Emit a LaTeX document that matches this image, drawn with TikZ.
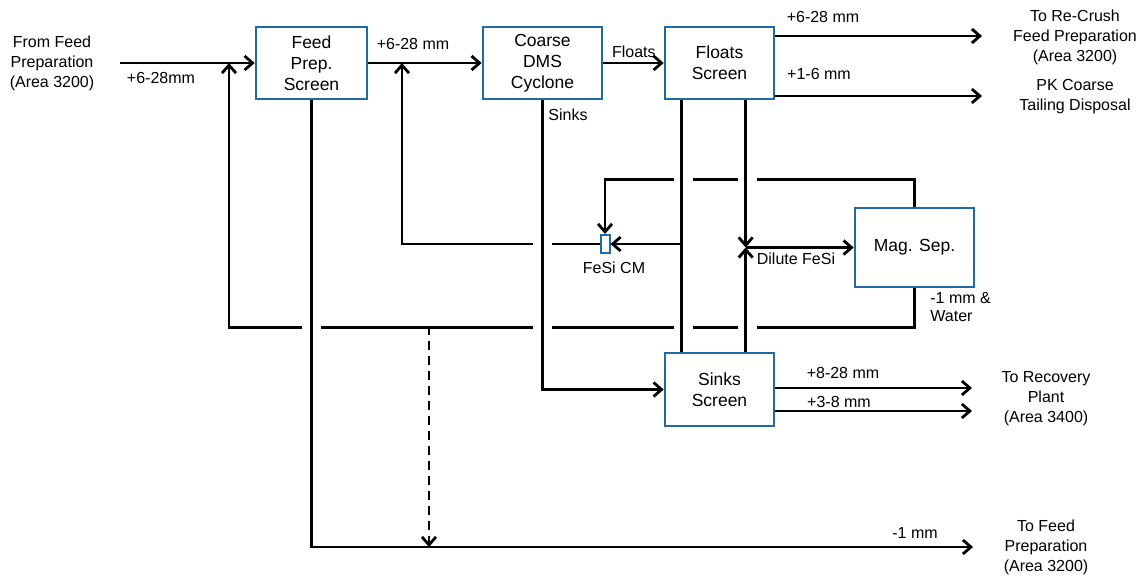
\documentclass[tikz,border=0pt]{standalone}
\usepackage{fontspec}
\setmainfont{Liberation Sans}
\usetikzlibrary{positioning,arrows.meta}
\definecolor{boxblue}{RGB}{31,106,168}

\begin{document}
\begin{tikzpicture}[x=1pt, y=-1pt, line width=2.8pt,
    box/.style={draw=boxblue, line width=2.6pt, rectangle, align=center, inner sep=0pt, font=\fontsize{17.5}{21}\selectfont},
    txt/.style={align=center, inner sep=0pt, font=\fontsize{16}{20}\selectfont},
    lbl/.style={inner sep=0pt, font=\fontsize{16}{18}\selectfont},
    arr/.style={-{Straight Barb[length=8pt,width=14pt]}}]

    \useasboundingbox (0,0) rectangle (1142,576);

    % Nodes
    \node[box, minimum width=111pt, minimum height=72pt] (feed) at (311.5,63) {Feed\\Prep.\\Screen};
    \node[box, minimum width=119pt, minimum height=72pt] (cyclone) [right of=feed, node distance=231pt] {Coarse\\DMS\\Cyclone};
    \node[box, minimum width=109pt, minimum height=72pt] (floats) [right of=cyclone, node distance=177pt] {Floats\\Screen};
    \node[box, minimum width=109pt, minimum height=73pt] (sinks) [below of=floats, node distance=326.5pt] {Sinks\\Screen};
    \node[box, minimum width=119pt, minimum height=79pt] (magsep) at (914.5,247.5) {Mag. Sep.};
    \node[box, line width=2pt, minimum width=9pt, minimum height=18pt] (fesi) at (605,244) {};

    \node[txt] (from) at (52,63) {From Feed\\Preparation\\(Area 3200)};
    \node[txt] (recrush) at (1075,37) {To Re-Crush\\Feed Preparation\\(Area 3200)};
    \node[txt] (pkcoarse) at (1075,97) {PK Coarse\\Tailing Disposal};
    \node[txt] (recovery) at (1046,399) {To Recovery\\Plant\\(Area 3400)};
    \node[txt] (tofeed) at (1046,547) {To Feed\\Preparation\\(Area 3200)};

    % Labels
    \node[lbl] (lin) at (161,78) {+6-28mm};
    \node[lbl] (lfeed) at (413,44) {+6-28 mm};
    \node[lbl, anchor=east] (lfloats) at (657,52) {Floats};
    \node[lbl] (lsinks) at (568,115) {Sinks};
    \node[lbl] (lcoarse) at (823,17) {+6-28 mm};
    \node[lbl] (lpk) at (819,74) {+1-6 mm};
    \node[lbl] (lfesi) at (614,268) {FeSi CM};
    \node[lbl] (ldilute) at (796,259) {Dilute FeSi};
    \node[lbl, align=left, anchor=north west] (lwater) at (929,291) {-1 mm \&\\Water};
    \node[lbl] (lfine) at (915,533) {-1 mm};
    \node[lbl] (lbig) at (843,373) {+8-28 mm};
    \node[lbl] (lsmall) at (839,402) {+3-8 mm};

    % Ends
    \coordinate (fromend) at (120,63);
    \coordinate (recrushend) at (982,36);
    \coordinate (pkend) at (982,96);
    \coordinate (rec1) at (972,388);
    \coordinate (rec2) at (972,411);
    \coordinate (fineend) at (973,547);
    \coordinate (ret) at (229,63);
    \coordinate (cmret) at (402,63);
    \coordinate (dtop) at (429,326);
    \coordinate (fl1) at ([xshift=18pt]floats.south west);
    \coordinate (fl2) at ([xshift=82pt]floats.south west);

    % Return lines
    \draw[arr] (magsep.north) -- ++(0,-27) -| (fesi.north);
    \draw[arr] (magsep.south) -- ++(0,39) -| (ret);
    \draw[arr] (fesi.west) -| (cmret);

    % Crossings
    \foreach \gx/\gy in {683/181, 747/181, 542.5/244, 311/326, 542.5/326, 683/326, 747/326}
        \fill[white] (\gx-9.5,\gy-4) rectangle (\gx+9.5,\gy+4);

    % Arrows
    \draw[arr] (fromend) -- (feed);
    \draw[arr] (feed) -- (cyclone);
    \draw[arr] (cyclone) -- (floats);
    \draw[arr] (floats.east |- recrushend) -- (recrushend);
    \draw[arr] (floats.east |- pkend) -- (pkend);
    \draw[arr] (cyclone.south) |- (sinks.west);
    \draw[arr] (sinks.east |- rec1) -- (rec1);
    \draw[arr] (sinks.east |- rec2) -- (rec2);
    \draw[arr] (feed.south) |- (fineend);
    \draw[arr, dash pattern=on 9pt off 6pt] (dtop) -- (dtop |- fineend);

    \draw (fl1) -- (fl1 |- sinks.north);
    \draw[arr] (fl1 |- fesi.east) -- (fesi.east);
    \draw[arr] (fl2) -- (fl2 |- magsep.west);
    \draw[arr] (fl2 |- sinks.north) -- (fl2 |- magsep.west);
    \draw[arr] (fl2 |- magsep.west) -- (magsep.west);

\end{tikzpicture}
\end{document}
